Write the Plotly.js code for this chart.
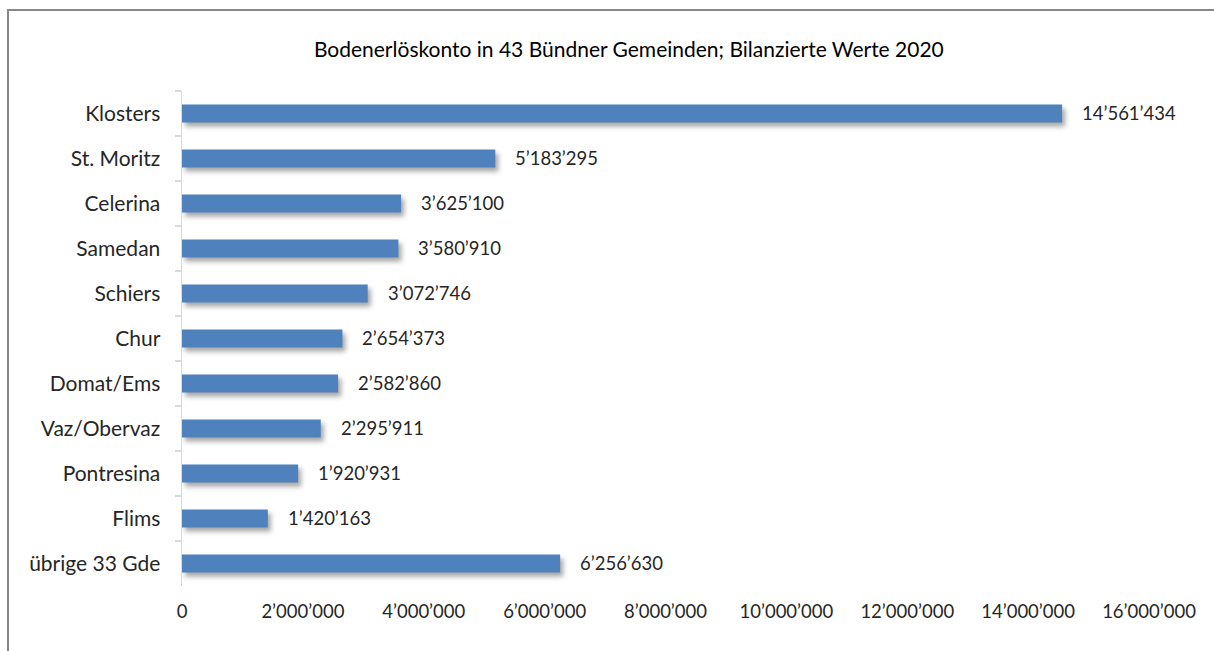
<!DOCTYPE html>
<html>
<head>
<meta charset="utf-8">
<script src="https://cdn.plot.ly/plotly-3.0.1.min.js"></script>
<style>
  html, body { margin: 0; padding: 0; background: #fff; overflow: hidden; }
  #frame { position: absolute; left: 7px; top: 9px; width: 1300px; height: 700px;
           border-left: 2px solid #878787; border-top: 2px solid #878787; box-sizing: border-box; pointer-events: none; z-index: 5; }
  #chart { position: absolute; left: 0; top: 0; width: 1214px; height: 651px; }
  #chart .bars .point path { filter: drop-shadow(3px 4px 2.5px rgba(0,0,0,0.35)); }
</style>
</head>
<body>
<div id="chart"></div>
<div id="frame"></div>
<script>
const categories = ["Klosters", "St. Moritz", "Celerina", "Samedan", "Schiers", "Chur",
                    "Domat/Ems", "Vaz/Obervaz", "Pontresina", "Flims", "übrige 33 Gde"];
const values = [14561434, 5183295, 3625100, 3580910, 3072746, 2654373,
                2582860, 2295911, 1920931, 1420163, 6256630];
const valueLabels = ["14’561’434", "5’183’295", "3’625’100", "3’580’910", "3’072’746", "2’654’373",
                     "2’582’860", "2’295’911", "1’920’931", "1’420’163", "6’256’630"];
const tickValues = [0, 2000000, 4000000, 6000000, 8000000, 10000000, 12000000, 14000000, 16000000];
const tickLabels = ["0", "2’000’000", "4’000’000", "6’000’000", "8’000’000", "10’000’000",
                    "12’000’000", "14’000’000", "16’000’000"];
const titleText = "Bodenerlöskonto in 43 Bündner Gemeinden; Bilanzierte Werte 2020";

const FONT = "Lato, 'Open Sans', sans-serif";
const TXT = "#262626";

const trace = {
  type: "bar",
  orientation: "h",
  y: categories,
  x: values,
  marker: { color: "#4f81bd", line: { width: 0 } },
  hoverinfo: "skip"
};

const annotations = categories.map((c, i) => ({
  x: values[i], y: c, xref: "x", yref: "y",
  text: valueLabels[i], showarrow: false,
  xanchor: "left", yanchor: "middle", xshift: 18, yshift: 1,
  font: { family: FONT, size: 18.5, color: TXT }
}));

const layout = {
  width: 1214, height: 651,
  margin: { l: 182, r: 65, t: 91, b: 65 },
  paper_bgcolor: "#ffffff", plot_bgcolor: "#ffffff",
  showlegend: false,
  bargap: 0.6,
  font: { family: FONT, color: TXT },
  title: { text: titleText, x: 0.518, xref: "container", xanchor: "center",
           y: 0.923, yref: "container", yanchor: "middle",
           font: { family: FONT, size: 21, color: "#000000" } },
  xaxis: {
    range: [0, 16000000], tickmode: "array", tickvals: tickValues, ticktext: tickLabels,
    showgrid: false, zeroline: false, showline: false, ticks: "",
    ticklabelstandoff: 12,
    tickfont: { family: FONT, size: 18.5, color: TXT }, fixedrange: true
  },
  yaxis: {
    type: "category", autorange: "reversed",
    showgrid: false, zeroline: false,
    showline: true, linecolor: "#d9d9d9", linewidth: 1.5,
    ticks: "outside", tickson: "boundaries", ticklen: 6, tickcolor: "#d9d9d9", tickwidth: 1.5,
    ticklabelstandoff: 16,
    tickfont: { family: FONT, size: 21, color: TXT }, fixedrange: true
  },
  annotations: annotations
};

Plotly.newPlot("chart", [trace], layout, { displayModeBar: false, staticPlot: true });
</script>
</body>
</html>
